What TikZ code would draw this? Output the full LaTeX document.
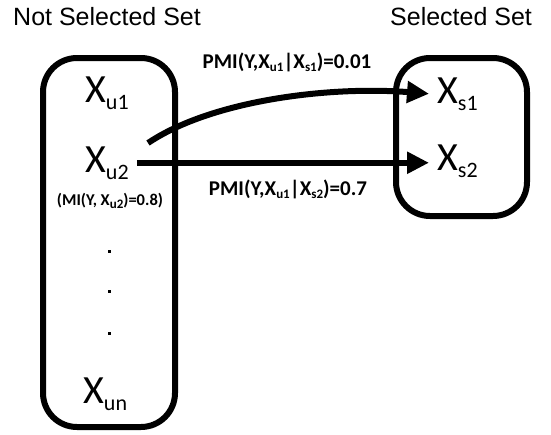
\documentclass[tikz,border=0pt]{standalone}
\usepackage{fontspec}
\setmainfont{Carlito}
\newfontfamily\arialfont{Liberation Sans}
\usetikzlibrary{arrows.meta}
\newcommand{\bigsub}[1]{\raisebox{-7pt}{\fontsize{22}{22}\selectfont #1}}
\newcommand{\lblsub}[1]{\raisebox{-3pt}{\fontsize{13}{13}\selectfont #1}}
\begin{document}
\begin{tikzpicture}[x=1pt,y=-1pt,
  setbox/.style={draw,line width=6pt,rounded corners=34pt},
  bigx/.style={font=\fontsize{40}{44}\selectfont,inner ysep=0pt,inner xsep=8pt,anchor=base west},
  title/.style={font=\arialfont\fontsize{25}{28}\selectfont,inner sep=0pt,anchor=base west},
  pmilabel/.style={font=\bfseries\fontsize{21}{24}\selectfont,inner sep=0pt},
  dotnode/.style={rectangle,fill,inner sep=0pt,minimum size=3pt},
  conn/.style={line width=6pt,-{Triangle[length=22pt,width=21pt]}}]
\useasboundingbox (0,0) rectangle (551,434);
\node[title] (tns) at (13,25) {Not Selected Set};
\node[title] (ts) at (390,25) {Selected Set};
\draw[setbox] (43,58) rectangle (175,427);
\draw[setbox] (396,58) rectangle (527,216);
\node[bigx] (u1) at (77,102) {X\bigsub{u1}};
\node[bigx] (u2) at (77,172) {X\bigsub{u2}};
\node[font=\bfseries\fontsize{16.5}{18}\selectfont,inner sep=0pt] (mi) at (110,201) {(MI(Y, X\lblsub{u2})=0.8)};
\node[dotnode] (d1) at (109,251) {};
\node[dotnode] (d2) at (109,291) {};
\node[dotnode] (d3) at (109,333) {};
\node[bigx] (un) at (75,403) {X\bigsub{un}};
\node[bigx] (s1) at (429,103) {X\bigsub{s1}};
\node[bigx] (s2) at (429,170) {X\bigsub{s2}};
\node[pmilabel] (p1) at (287,62) {PMI(Y,X\lblsub{u1}|X\lblsub{s1})=0.01};
\node[pmilabel] (p2) at (288,189) {PMI(Y,X\lblsub{u1}|X\lblsub{s2})=0.7};
\coordinate (c1) at (148,143);
\draw[conn] (c1) .. controls (212,100) and (330,86) .. (s1.west);
\draw[conn] (u2.east) -- (s2.west |- u2.east);
\end{tikzpicture}
\end{document}
